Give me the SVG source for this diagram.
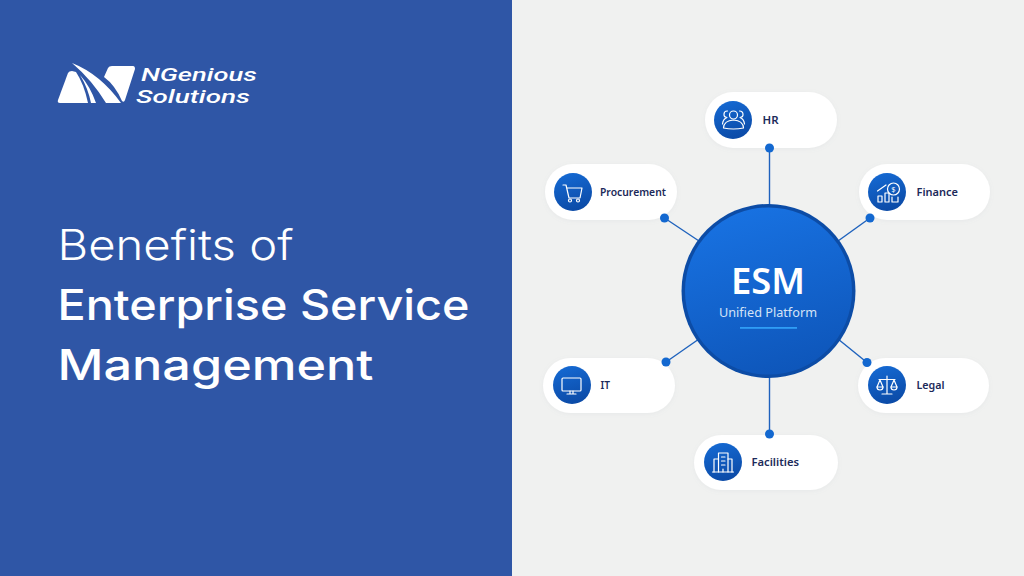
<svg xmlns="http://www.w3.org/2000/svg" width="1024" height="576" viewBox="0 0 1024 576">
<defs>
<linearGradient id="ig" x1="0.3" y1="0" x2="0.6" y2="1"><stop offset="0" stop-color="#1569d2"/><stop offset="1" stop-color="#0b4aa6"/></linearGradient>
<linearGradient id="cg" x1="0.3" y1="0" x2="0.6" y2="1"><stop offset="0" stop-color="#1872e2"/><stop offset="1" stop-color="#0e56ba"/></linearGradient>
<filter id="sh" x="-20%" y="-30%" width="140%" height="160%"><feDropShadow dx="0" dy="1" stdDeviation="2" flood-color="#8a94a6" flood-opacity="0.1"/></filter>
</defs>
<style>
.pill{fill:#fff;filter:url(#sh)}
.ic{fill:url(#ig)}
.gl{fill:none;stroke:#fff;stroke-width:1.2;stroke-linecap:round;stroke-linejoin:round}
.lb{font-family:"Noto Sans","Open Sans",sans-serif;font-size:11.500px;font-weight:600;fill:#1c2a5a}
.cn{stroke:#1e62bd;stroke-width:1.4;fill:none}
.dt{fill:#1368d0}
.tt{font-family:Inter,"Open Sans",sans-serif;fill:#fff;font-size:42px}
.lg{font-family:Roboto,"Open Sans",sans-serif;font-size:18.500px;font-weight:500;font-style:italic;fill:#fff}
</style>
<rect width="1024" height="576" fill="#f0f1f0"/>
<rect width="512" height="576" fill="#2f56a6"/>

<g id="logo" fill="#fff">
<path d="M58 100 L68 73 Q69 71 72 71 L76 72 Q84 84 88 103 L60 103 Q57 103 58 100 Z"/>
<path d="M80 75 Q90 86 96 103 L91 103 Q88 88 80 75 Z"/>
<path d="M72 63 Q100 74 121 103 L106 103 Q92 80 72 63 Z"/>
<path d="M108 68 Q109 66 112 66 L133 66 Q135 66 135 69 L125 100 Q124 103 122 101 Q115 85 104 77 Z"/>
<text class="lg" x="141" y="80.500" textLength="116" lengthAdjust="spacingAndGlyphs">NGenious</text>
<text class="lg" x="136" y="102.500" textLength="114" lengthAdjust="spacingAndGlyphs">Solutions</text>
</g>

<g id="title">
<text class="tt" x="57.500" y="260" font-weight="300" textLength="236" lengthAdjust="spacingAndGlyphs">Benefits of</text>
<text class="tt" x="57.500" y="320" font-weight="500" textLength="412" lengthAdjust="spacingAndGlyphs">Enterprise Service</text>
<text class="tt" x="57.500" y="380" font-weight="500" textLength="316" lengthAdjust="spacingAndGlyphs">Management</text>
</g>

<g id="connectors">
<line class="cn" x1="769.500" y1="148" x2="769.500" y2="206"/>
<line class="cn" x1="870" y1="218" x2="838" y2="241"/>
<line class="cn" x1="664.500" y1="218" x2="699" y2="241"/>
<line class="cn" x1="666" y1="362" x2="699" y2="339"/>
<line class="cn" x1="867" y1="362.500" x2="838" y2="339"/>
<line class="cn" x1="769.500" y1="434" x2="769.500" y2="376"/>
</g>

<g id="node-esm">
<circle cx="768.500" cy="291" r="87" fill="#0c4ca6"/>
<circle cx="768.500" cy="291" r="83.500" fill="url(#cg)"/>
<text x="768" y="294" text-anchor="middle" font-family="Noto Sans,sans-serif" font-size="36" font-weight="600" fill="#fff" textLength="74" lengthAdjust="spacingAndGlyphs">ESM</text>
<text x="768" y="317" text-anchor="middle" font-family="Noto Sans,sans-serif" font-size="13" fill="#d5e4f7" textLength="98" lengthAdjust="spacingAndGlyphs">Unified Platform</text>
<rect x="740" y="327" width="57" height="1.800" fill="#2f9df5"/>
</g>

<g id="node-hr">
<rect class="pill" x="705" y="92" width="132" height="56" rx="28"/>
<circle class="ic" cx="733" cy="120" r="19"/>
<g class="gl">
<circle cx="733.500" cy="115" r="4"/>
<path d="M723.500 128 Q724 120.500 733.500 120 Q743 120.500 743.500 128 Q733.500 130 723.500 128 Z"/>
<path d="M727.500 111 A3 3 0 0 0 727 117.500 Q723 119 722.500 124 M739.500 111 A3 3 0 0 1 740 117.500 Q744 119 744.500 124"/>
</g>
<text class="lb" x="762.500" y="124" textLength="16" lengthAdjust="spacingAndGlyphs">HR</text>
<circle class="dt" cx="769.500" cy="148" r="4.500"/>
</g>

<g id="node-finance">
<rect class="pill" x="859" y="164" width="131" height="56" rx="28"/>
<circle class="ic" cx="887" cy="192" r="19"/>
<g class="gl">
<circle cx="893.500" cy="189" r="6"/>
<path d="M877.500 191 L886 185"/>
<rect x="878" y="196" width="4" height="6"/>
<rect x="885" y="193" width="4" height="9"/>
<path d="M892 197 V202 H898 V197"/>
</g>
<text x="893.500" y="191.500" text-anchor="middle" font-family="Noto Sans,sans-serif" font-size="7.500" fill="#fff">$</text>
<text class="lb" x="916.500" y="196" textLength="41.500" lengthAdjust="spacingAndGlyphs">Finance</text>
<circle class="dt" cx="870" cy="218" r="4.500"/>
</g>

<g id="node-procurement">
<rect class="pill" x="545" y="164" width="132" height="56" rx="28"/>
<circle class="ic" cx="573" cy="192" r="19"/>
<g class="gl">
<path d="M563 185 H566 L569 198 H580 L582 188 H567"/>
<circle cx="570" cy="200.500" r="1.500"/>
<circle cx="578" cy="200.500" r="1.500"/>
</g>
<text class="lb" x="600" y="196" textLength="66" lengthAdjust="spacingAndGlyphs">Procurement</text>
<circle class="dt" cx="664.500" cy="218" r="4.500"/>
</g>

<g id="node-it">
<rect class="pill" x="543" y="358" width="132" height="55" rx="27.500"/>
<circle class="ic" cx="572" cy="385" r="19"/>
<g class="gl">
<rect x="562" y="378" width="19" height="13" rx="1"/>
<path d="M570 391 V394 M573 391 V394 M567 394 H576"/>
</g>
<text class="lb" x="600.500" y="389" textLength="9.500" lengthAdjust="spacingAndGlyphs">IT</text>
<circle class="dt" cx="666" cy="362" r="4.500"/>
</g>

<g id="node-legal">
<rect class="pill" x="858" y="358" width="131" height="55" rx="27.500"/>
<circle class="ic" cx="887" cy="385" r="19"/>
<g class="gl">
<path d="M887 376 V394 M882 394 H892 M879 379.500 H895"/>
<path d="M880 380 L877 387 H883 Z M894 380 L891 387 H897 Z"/>
<path d="M877 387 A3 3 0 0 0 883 387 M891 387 A3 3 0 0 0 897 387"/>
</g>
<text class="lb" x="916.500" y="389" textLength="28" lengthAdjust="spacingAndGlyphs">Legal</text>
<circle class="dt" cx="867" cy="362.500" r="4.500"/>
</g>

<g id="node-facilities">
<rect class="pill" x="694" y="435" width="144" height="55" rx="27.500"/>
<circle class="ic" cx="723" cy="462" r="19"/>
<g class="gl">
<path d="M712.500 472 H733.500"/>
<path d="M718.500 472 V453 H728 V472"/>
<path d="M718.500 459 H714 V472 M728 459 H732 V472"/>
<path d="M721.500 457 H725 M721.500 461 H725 M721.500 465 H725 M723 469 V472"/>
</g>
<text class="lb" x="751.500" y="466" textLength="47.500" lengthAdjust="spacingAndGlyphs">Facilities</text>
<circle class="dt" cx="769.500" cy="434" r="4.500"/>
</g>
</svg>
